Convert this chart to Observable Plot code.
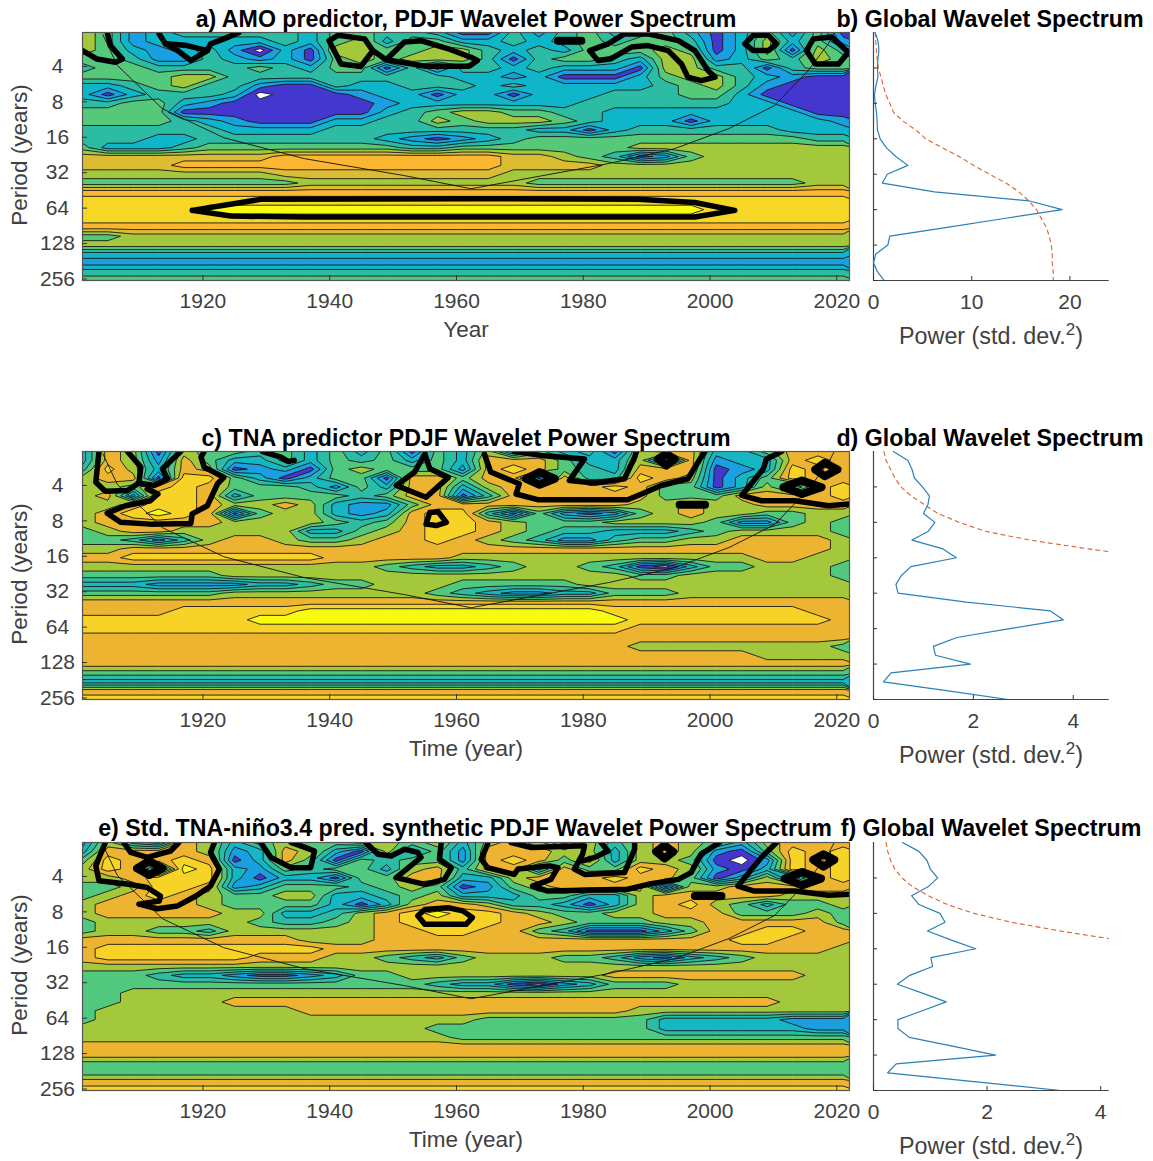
<!DOCTYPE html>
<html>
<head>
<meta charset="utf-8">
<script src="https://cdn.jsdelivr.net/npm/d3@7"></script>
<script src="https://cdn.jsdelivr.net/npm/@observablehq/plot@0.6"></script>
<style>
html,body{margin:0;padding:0;background:#fff}
#fig{position:relative;width:1153px;height:1161px;overflow:hidden;font-family:"Liberation Sans",Arial,sans-serif}
#fig svg{position:absolute;overflow:visible}
.t{position:absolute;white-space:nowrap;transform:translate(-50%,-50%);font-weight:bold;font-size:23.2px;color:#000}
.l{position:absolute;white-space:nowrap;transform:translate(-50%,-50%);font-size:22.5px;color:#404040}
.p{position:absolute;white-space:nowrap;transform:translate(-50%,-50%);font-size:23.3px;color:#404040}
.r{position:absolute;white-space:nowrap;transform:translate(-50%,-50%) rotate(-90deg);font-size:22.5px;color:#404040}
sup{font-size:17px;line-height:0}
</style>
</head>
<body>
<div id="fig"></div>
<script>
// Wavelet scales (years), shared by every panel
const periods = [2,2.38,2.83,3.36,4,4.76,5.66,6.73,8,9.51,11.31,13.45,16,19.03,22.63,26.91,32,38.05,45.25,53.82,64,76.11,90.51,107.63,128,152.22,181.02,215.27,256];
const yearTicks = [1920,1940,1960,1980,2000,2020];
const periodTicks = [4,8,16,32,64,128,256];
const gridStartYear = 1901, gridStepYears = 4;

// Power bands: one string per scale, one digit per 4-year column
const amoRows = [
"65234 44443 55443 11424 53453 13525 1",
"65233 33343 56355 33434 54554 13635 2",
"65323 42031 66556 64343 55565 13616 4",
"55422 43231 56566 64145 54366 23546 5",
"45544 44543 55141 44343 33166 44145 5",
"55556 64444 44444 33231 11356 64321 1",
"33456 44211 43344 43433 33345 64211 1",
"31344 43011 12331 33133 34445 53111 1",
"44553 21111 11233 33333 44444 43311 1",
"55551 11111 11345 66554 43333 33331 1",
"55554 32111 33446 56665 43331 33333 2",
"44444 43333 44444 44433 13444 44433 3",
"44433 44444 44321 23455 55555 55554 4",
"53334 55555 55544 55555 55666 66666 6",
"77777 77788 88888 88776 54125 66666 6",
"77778 88888 88888 88777 76666 66666 6",
"66666 66677 77777 77666 66666 66666 6",
"55555 55556 66666 66655 55555 55556 6",
"88888 88888 88888 88888 88888 88888 8",
"99999 99999 99999 99999 99999 99999 9",
"99999 aaaaa aaaaa aaaaa aaaaa 99999 9",
"99999 99999 99999 99999 99999 99999 9",
"88888 88888 88888 88888 88888 88888 8",
"55666 66666 66666 66666 66666 66666 6",
"66666 66666 66666 66666 66666 66666 6",
"33333 33333 33333 33333 33333 33333 3",
"22222 22222 22222 22222 22222 22222 2",
"44444 44444 44444 44444 44444 44444 4",
"55555 55555 55555 55555 55555 55555 5"];

const tnaRows = [
"37616 55453 53515 36253 41677 33577 7",
"37627 53353 54535 37775 33617 23378 7",
"48637 61231 56555 27875 43777 12387 7",
"67718 85313 55177 57717 44876 13587 7",
"66578 75554 25377 36777 78755 13637 8",
"67288 73555 54577 14777 77755 57777 8",
"66788 76676 32257 77777 77667 66777 7",
"67898 71566 32378 84152 12567 66556 6",
"67777 76666 54578 87655 56666 52256 5",
"56776 66663 35678 87654 43334 56666 5",
"55424 67765 56778 76542 24556 67777 6",
"66777 77777 77777 77777 77777 77777 6",
"77888 88888 77777 66666 66666 66776 6",
"66666 66666 66543 34566 54103 55666 5",
"55555 56666 66666 66666 66556 66666 5",
"33322 22334 55666 55555 66666 66666 6",
"55555 56666 66665 43223 35556 66666 6",
"77777 77777 77777 77777 77777 77777 7",
"77778 88889 99999 99999 98888 88887 7",
"88888 88999 99999 99999 99888 88888 7",
"88888 88888 88888 88888 88777 77777 7",
"77777 77777 77777 77777 77777 77777 7",
"77777 77777 77777 77777 77666 66666 5",
"77777 77777 77777 77777 77777 77666 6",
"77777 77777 77777 77777 77777 77777 7",
"55555 55555 55555 55555 55555 55555 5",
"33333 33333 33333 33333 33333 33333 3",
"77777 77777 77777 77777 77777 77777 7",
"88888 88888 88888 88888 88888 88888 8"];

const synRows = [
"26327 63565 56656 36763 64676 53677 7",
"37777 62376 31635 27776 63676 21587 8",
"58778 71375 15455 27875 73665 10287 8",
"68729 83254 55367 47737 55876 21387 8",
"66788 83133 15577 33677 78775 13627 8",
"55688 72355 54565 12567 77716 67777 7",
"56787 65566 33456 33355 33677 77766 6",
"67777 65555 31367 76443 13678 65355 6",
"67777 76633 46789 88765 56677 75556 5",
"56666 66544 56788 88776 55566 77777 5",
"56655 46666 66778 87754 11135 77887 7",
"77777 77776 66777 77777 77777 78877 7",
"78888 88888 77777 77777 77777 77777 6",
"78888 88777 66543 56665 54213 45666 6",
"66666 66666 66666 66666 66666 66666 6",
"55543 32112 35566 66666 67777 77776 6",
"55555 55555 55554 33102 35556 66666 6",
"55666 66666 66666 66666 66666 66666 6",
"55666 67777 77777 77777 77777 77766 6",
"56666 66667 77777 77777 77666 66666 6",
"56666 66666 66666 65555 55533 33322 2",
"66666 66666 66665 55555 55533 33332 2",
"66666 66666 66666 55555 55555 55555 5",
"77777 77777 77777 77777 77777 77777 7",
"77777 77777 77777 77777 77777 77777 7",
"55555 55555 55555 55555 55555 55555 5",
"55555 55555 55555 55555 55555 55555 5",
"77777 77777 77777 77777 77777 77777 7",
"88888 88888 88888 88888 88888 88888 8"];

// Significance outlines, as flat lists of year, log2(period)
const amoSigLines = [
[1901,1.51,1903.3,1.75,1906.2,1.84,1907.3,1.75,1905.4,1.37,1904.9,1],
[1913.1,1.04,1914.1,1.32,1916,1.51,1918.1,1.79,1920.7,1.51,1921.2,1.32,1923.3,1.18,1925.7,1],
[1914.1,1.32,1917.5,1.37,1920.7,1.51],
[1946.8,1.51,1945.5,1.18,1941.3,1.08,1939.9,1.23,1941.8,1.89,1944.9,1.96,1946.8,1.51,1948.9,1.77,1951.8,1.27,1954.4,1.23,1958.7,1.46,1962.3,1.70,1963.3,1.79,1962,1.95,1955,1.95,1948.9,1.77],
[1981,1.51,1982.3,1.79,1984.4,1.74,1987.6,1.41,1990.2,1.37,1993.4,1.51,1995.5,1.89,1996.5,2.26,1998.6,2.36,2000.8,2.26,1999.7,2.08,1997.6,1.51,1995,1.23,1990.2,1.04,1986.5,1.04,1983.9,1.32,1981,1.51],
[2005.5,1.32,2006.8,1.08,2009.2,1.08,2010.5,1.32,2009.2,1.51,2006.8,1.51,2005.5,1.32],
[2015.2,1.51,2016.3,1.18,2019.2,1.13,2021.8,1.56,2020.3,1.89,2016.6,1.89,2015.2,1.51],
[1918.3,6.02,1929.1,5.71,1962.3,5.69,1988.6,5.71,1997.6,5.80,2003.9,6.02,1997.6,6.21,1981.8,6.21,1936,6.21,1924.4,6.18,1918.3,6.02]];
const amoSigBlobs = [[1976,1.23,1979.7,1.23]];

const tnaSigLines = [
[1903.6,1,1903.1,1.87,1904.6,2.12,1908.1,2.10,1909.9,1.89,1912.3,1.96,1914.4,1.77,1913.6,1.49,1916.5,1],
[1908.1,1,1910.2,1.44,1909.9,1.89],
[1911.2,2.06,1912.9,2.20,1911.7,2.39,1907.8,2.53,1904.9,2.74,1907,3.0,1911.7,3.05,1918.1,3.03,1918.3,2.76,1920.7,2.53,1922.3,1.91,1923.3,1.73,1920.2,1.44,1919.7,1.16,1920.2,1],
[1929.4,1,1932.3,1.16,1933.4,1.28,1934.4,1.25],
[1955,1.07,1955.8,1.49,1958.7,1.73,1955.2,2.29,1950.5,1.96,1953.4,1.58,1955,1.07],
[1955.8,2.72,1957.1,2.70,1958.4,3,1956.8,3.09,1955.2,3.05,1955.8,2.72],
[1964.4,1.07,1965.4,1.58,1969.9,1.91,1969.4,2.2,1972.8,2.36,1987,2.36,1989.2,2.2,1992.3,1.96,1996.5,1.77,1998.6,1.16,1999.2,1],
[1969.1,1,1973.3,1.11,1980.2,1.21,1977.8,1.82,1981.8,1.89,1986.5,1.77,1988.1,1.16,1988.4,1],
[2011.3,1,2008.9,1.21,2008.4,1.49,2005,2.24,2008.1,2.39,2013.4,2.39,2018.7,2.53,2022.1,2.48]];
const tnaSigBlobs = [
[1971,1.77,1973.1,1.58,1975.5,1.77,1973.1,1.94,1971,1.77],
[1991.8,1.21,1993.1,1.07,1994.4,1.21,1993.1,1.40,1991.8,1.21],
[1995.2,2.5,1999.2,2.5],
[2011.6,2.01,2014.5,1.82,2017.6,2.01,2014.5,2.2,2011.6,2.01],
[2016.6,1.51,2018.1,1.32,2020.1,1.51,2018.1,1.70,2016.6,1.51]];

const synSigLines = [
[1904.6,1,1903.1,1.66,1903.6,2.08,1908.3,2.18,1911.2,2.27,1913.3,2.51,1913.1,2.65,1909.9,2.74,1912.8,2.87,1916,2.79,1918.9,2.51,1921.2,2.23,1922.6,1.75,1921.2,1.28,1921.8,1],
[1907.5,1,1908.6,1.28,1911.2,1.42,1914.9,1.24,1916.2,1],
[1929.1,1,1930.7,1.42,1933.9,1.71,1937,1.71,1937.6,1.24,1933.9,1],
[1945.7,1,1947.6,1.33,1949.7,1.38,1951.8,1.19,1953.9,1.28,1954.4,1.42,1951.8,1.80,1950.5,1.99,1955,2.18,1958.1,2.04,1959.2,1.71,1957.3,1.47,1957.6,1],
[1953.9,3.07,1955,2.89,1958.7,2.84,1961,2.93,1962.5,3.12,1961.5,3.31,1955,3.31,1953.9,3.07],
[1964.9,1.05,1963.9,1.47,1964.9,1.71,1969.1,1.90,1969.7,1.75,1974.7,1.66,1976,1.71,1974.9,2.04,1972,2.23,1974.4,2.37,1987,2.32,1990.2,2.18,1995,2.04,1997,1.85,1998.6,1.33,2001.5,1],
[1968.6,1,1971.8,1.14,1980.2,1.09,1979.9,1.33,1978.6,1.75,1980.2,1.90,1986.5,1.85,1988.1,1.19,1988.1,1],
[1982.8,1,1983.9,1.24,1981.8,1.42,1979.9,1.52],
[2010.5,1,2008.1,1.42,2004.4,2.23,2007,2.37,2013.4,2.37,2018.7,2.49,2022,2.46]];
const synSigBlobs = [
[1909.6,1.73,1911.5,1.52,1913.6,1.73,1911.5,1.92,1909.6,1.73],
[1991.5,1.26,1992.8,1.08,1994.2,1.26,1992.8,1.45,1991.5,1.26],
[1997.6,2.51,2001.8,2.51],
[2011.8,2.02,2014.5,1.83,2017.5,2.02,2014.5,2.21,2011.8,2.02],
[2016.3,1.49,2017.9,1.33,2019.6,1.49,2017.9,1.68,2016.3,1.49]];

// Cone of influence: year, log2(period)
const coneOfInfluence = [1904.2,1.06,1906.5,1.93,1913.6,3.15,1923.3,3.97,1936,4.56,1951.8,5.04,1962.3,5.41,1984,4.70,1994.4,4.28,2003,3.71,2010.2,3.06,2015.5,2.07,2018.7,1.31,2019.6,1];

// Global wavelet spectra and their significance curves (one value per scale)
const gwsB = [.17,.47,.55,.45,.4,.45,.25,.1,.17,.3,.37,.4,.68,1.3,2.27,3.5,1.4,.9,6.2,15.8,19.2,13.3,7.5,1.66,1.46,.24,0,.4,1.08];
const sigB = [.17,.24,.3,.37,.5,.75,1.0,1.25,1.66,2.03,3.0,4.3,5.3,7,8.7,10.2,11.8,13.5,14.8,15.8,16.6,17.1,17.6,17.9,18.1,18.2,18.2,18.3,18.3];
const gwsD = [.40,.69,.77,.82,.98,1.12,1.09,1.0,1.23,1.10,.77,1.39,1.66,.75,.56,.45,.49,1.86,3.54,3.8,2.73,1.67,1.2,1.24,1.94,.35,.2,1.46,2.7];
const sigD = [.21,.25,.34,.43,.55,.75,1.02,1.29,1.72,2.23,3.13,4.31,5.6];
const gwsF = [.51,.80,.94,1.0,1.13,.96,.67,.80,1.17,1.26,.95,1.36,1.80,1.01,1.04,.64,.42,.86,1.28,.86,.43,.43,.63,1.39,2.15,.40,.25,1.77,3.30];
const sigF = [.22,.25,.30,.375,.50,.69,.96,1.30,1.77,2.42,3.30,4.29];

const colorsAmo = ["#4437cf","#1a9fe0","#0fb5c9","#2cbca3","#56c87a","#a3c83c","#dcbc35","#fbb731","#f6d726","#f8fa10"];
const colorsTna = ["#4437cf","#1a9fe0","#14b7c2","#2cbca3","#50c97e","#a3c83c","#ecb430","#f8d327","#f8fa10"];

const fontStyle = {fontFamily:'"Liberation Sans",Arial,sans-serif', fontSize:"21px", color:"#404040", background:"transparent"};
const fig = document.getElementById("fig");

// In the contour panels the y scale is linear in log2(period), so the grid rows stay evenly spaced.
function pathRows(lines){
  return lines.flatMap((p,i)=>d3.range(0,p.length,2).map(j=>({i,year:p[j],octave:p[j+1]})));
}

function heatPanel(top, rows, colors, sigLines, sigBlobs){
  const values = rows.flatMap(r=>[...r.replace(/\s/g,"")].map(c=>parseInt(c,11)));
  const thresholds = colors.map((c,i)=>i+0.5);
  const ncol = values.length/rows.length;
  const chart = Plot.plot({
    width:860, height:288, marginLeft:82, marginRight:11, marginTop:0, marginBottom:40,
    style:fontStyle,
    x:{domain:[1901,2022]},
    y:{domain:[1,8],reverse:true},
    color:{type:"threshold",domain:thresholds.slice(1),range:colors},
    marks:[
      Plot.contour(values,{
        width:ncol,height:rows.length,
        x1:gridStartYear-gridStepYears/2,x2:gridStartYear+gridStepYears*(ncol-0.5),
        y1:1-0.125,y2:8+0.125,
        fill:Plot.identity,stroke:"#1a1a1a",strokeWidth:0.9,thresholds,clip:true
      }),
      Plot.line(pathRows([coneOfInfluence]),{x:"year",y:"octave",stroke:"#111",strokeWidth:0.9,clip:true}),
      Plot.line(pathRows(sigLines),{x:"year",y:"octave",z:"i",stroke:"#000",strokeWidth:5.5,strokeLinejoin:"round",clip:true}),
      Plot.line(pathRows(sigBlobs),{x:"year",y:"octave",z:"i",stroke:"#000",strokeWidth:8,strokeLinecap:"round",strokeLinejoin:"round",clip:true}),
      Plot.frame({stroke:"#555",strokeWidth:1.2}),
      Plot.axisX({ticks:yearTicks,tickFormat:"d",tickSize:-5,tickPadding:18,label:null,fontSize:21,stroke:"#333"}),
      Plot.axisY({ticks:periodTicks.map(Math.log2),tickFormat:d=>String(2**d),tickSize:-5,tickPadding:30,textAnchor:"middle",label:null,fontSize:21,stroke:"#333",dy:-1.5})
    ]
  });
  chart.style.left="0px"; chart.style.top=top+"px";
  fig.appendChild(chart);
}

function spectrumPanel(top, gws, sig, xmax, xticks){
  const line = gws.map((v,i)=>({v,p:periods[i]}));
  const dash = sig.map((v,i)=>({v,p:periods[i]}));
  const chart = Plot.plot({
    width:293, height:288, marginLeft:13, marginRight:44.3, marginTop:0, marginBottom:40,
    style:fontStyle,
    x:{domain:[0,xmax]},
    y:{type:"log",base:2,domain:[2,256],reverse:true},
    marks:[
      Plot.ruleX([0],{stroke:"#444",strokeWidth:1.2}),
      Plot.ruleY([256],{stroke:"#444",strokeWidth:1.2}),
      Plot.line(dash,{x:"v",y:"p",stroke:"#d9622b",strokeWidth:1.1,strokeDasharray:"4,4",clip:true}),
      Plot.line(line,{x:"v",y:"p",stroke:"#2a80b9",strokeWidth:1.2,clip:true}),
      Plot.axisX({ticks:xticks,tickFormat:"d",tickSize:-4,tickPadding:18,label:null,fontSize:21,stroke:"#333"}),
      Plot.axisY({ticks:periodTicks,tickFormat:()=>"",tickSize:-4,label:null,stroke:"#333"})
    ]
  });
  chart.style.left="860px"; chart.style.top=top+"px";
  fig.appendChild(chart);
}

heatPanel(32,amoRows,colorsAmo,amoSigLines,amoSigBlobs);
heatPanel(451,tnaRows,colorsTna,tnaSigLines,tnaSigBlobs);
heatPanel(842,synRows,colorsTna,synSigLines,synSigBlobs);
spectrumPanel(32,gwsB,sigB,24,[0,10,20]);
spectrumPanel(451,gwsD,sigD,4.72,[0,2,4]);
spectrumPanel(842,gwsF,sigF,4.15,[0,2,4]);

function label(cls,x,y,html){
  const d=document.createElement("div");
  d.className=cls; d.style.left=x+"px"; d.style.top=y+"px"; d.innerHTML=html;
  fig.appendChild(d);
}
label("t",466,19,"a) AMO predictor, PDJF Wavelet Power Spectrum");
label("t",990,19,"b) Global Wavelet Spectrum");
label("t",466,438,"c) TNA predictor PDJF Wavelet Power Spectrum");
label("t",990,438,"d) Global Wavelet Spectrum");
label("t",465,828,"e) Std. TNA-niño3.4 pred. synthetic PDJF Wavelet Power Spectrum");
label("t",991,828,"f) Global Wavelet Spectrum");
label("l",466,330,"Year");
label("l",466,749,"Time (year)");
label("l",466,1140,"Time (year)");
label("p",991,336,"Power (std. dev.<sup>2</sup>)");
label("p",991,755,"Power (std. dev.<sup>2</sup>)");
label("p",991,1146,"Power (std. dev.<sup>2</sup>)");
label("r",20,155,"Period (years)");
label("r",20,574,"Period (years)");
label("r",20,965,"Period (years)");
</script>
</body>
</html>
